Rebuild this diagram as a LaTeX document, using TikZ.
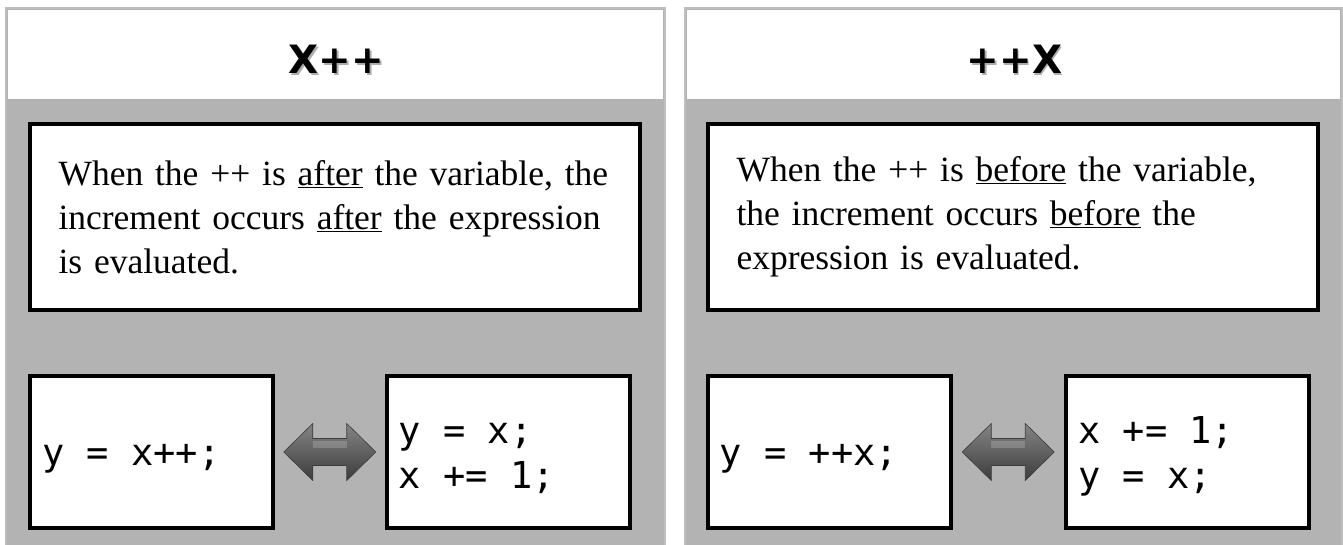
\documentclass[tikz,border=0pt]{standalone}
\usepackage{fontspec}
\setmainfont{Liberation Serif}
\newfontfamily\titlefont{DejaVu Sans}
\newfontfamily\codefont{DejaVu Sans Mono}
\usetikzlibrary{calc}
\definecolor{panelgray}{HTML}{B3B3B3}
\definecolor{panelborder}{HTML}{BEBEBE}
\definecolor{arrowtop}{HTML}{858585}
\definecolor{arrowmid}{HTML}{5E5E5E}
\definecolor{arrowbot}{HTML}{3C3C3C}
\tikzset{
  panel/.style={fill=panelgray, draw=panelborder, line width=2pt},
  titleband/.style={fill=white, draw=none},
  titletext/.style={font=\titlefont\bfseries\fontsize{39}{46}\selectfont, inner sep=0pt},
  descbox/.style={draw=black, fill=white, line width=4pt, minimum width=610pt, minimum height=185pt,
    text width=553pt, align=left, inner xsep=28.5pt, font=\fontsize{35.5}{44}\selectfont},
  codebox/.style={draw=black, fill=white, line width=4pt, minimum width=243pt, minimum height=152pt},
  codetext/.style={font=\codefont\fontsize{37}{45}\selectfont, inner sep=0pt, anchor=base west},
  bigarrow/.style={shading=axis, top color=arrowtop, middle color=arrowmid, bottom color=arrowbot, draw=arrowbot, line width=0.6pt},
}
\newcommand{\dblarrow}[1]{%
  \path[bigarrow] ($(#1)+(-46,0)$) -- ($(#1)+(-17,-28.5)$) -- ($(#1)+(-17,-13.5)$) -- ($(#1)+(17,-13.5)$)
    -- ($(#1)+(17,-28.5)$) -- ($(#1)+(46,0)$) -- ($(#1)+(17,28.5)$) -- ($(#1)+(17,13.5)$)
    -- ($(#1)+(-17,13.5)$) -- ($(#1)+(-17,28.5)$) -- cycle;
  \path[fill=white, opacity=0.18] ($(#1)+(-17,-11.5)$) rectangle ($(#1)+(17,-4)$);
}
\begin{document}
\begin{tikzpicture}[x=1pt, y=-1pt]
\useasboundingbox[fill=white] (0,0) rectangle (1343,545);
% panels
\path[panel] (6,8) rectangle (665,546);
\path[panel] (685,8) rectangle (1342,546);
\path[titleband] (8,10) rectangle (663,99);
\path[titleband] (687,10) rectangle (1340,99);
% titles
\node[titletext, text=black!45, opacity=0.7] at (338,61) {X++};
\node[titletext] (t1) at (336.5,59.5) {X++};
\node[titletext, text=black!45, opacity=0.7] at (1016,61) {++X};
\node[titletext] (t2) at (1014.5,59.5) {++X};
% description boxes
\node[descbox] (d1) at (335,217) {When the ++ is \underline{after} the variable, the\\increment occurs \underline{after} the expression\\is evaluated.};
\node[descbox] (d2) at (1013,217) {When the ++ is \underline{before} the variable,\\the increment occurs \underline{before} the\\expression is evaluated.};
% code boxes
\node[codebox] (a1) at (151.5,452) {};
\node[codebox] (b1) at (508,452) {};
\node[codebox] (a2) at (829,452) {};
\node[codebox] (b2) at (1187.5,452) {};
% code texts
\node[codetext] (a1t) at ($(a1.west)+(14,13)$) {y = x++;};
\node[codetext] (b1t1) at ($(b1.west)+(14,-9)$) {y = x;};
\node[codetext] (b1t2) at ($(b1.west)+(14,36)$) {x += 1;};
\node[codetext] (a2t) at ($(a2.west)+(14,13)$) {y = ++x;};
\node[codetext] (b2t1) at ($(b2.west)+(14,-9)$) {x += 1;};
\node[codetext] (b2t2) at ($(b2.west)+(14,36)$) {y = x;};
% arrows
\coordinate (m1) at ($(a1.east)!0.5!(b1.west)$);
\coordinate (m2) at ($(a2.east)!0.5!(b2.west)$);
\dblarrow{m1}
\dblarrow{m2}
\end{tikzpicture}
\end{document}
